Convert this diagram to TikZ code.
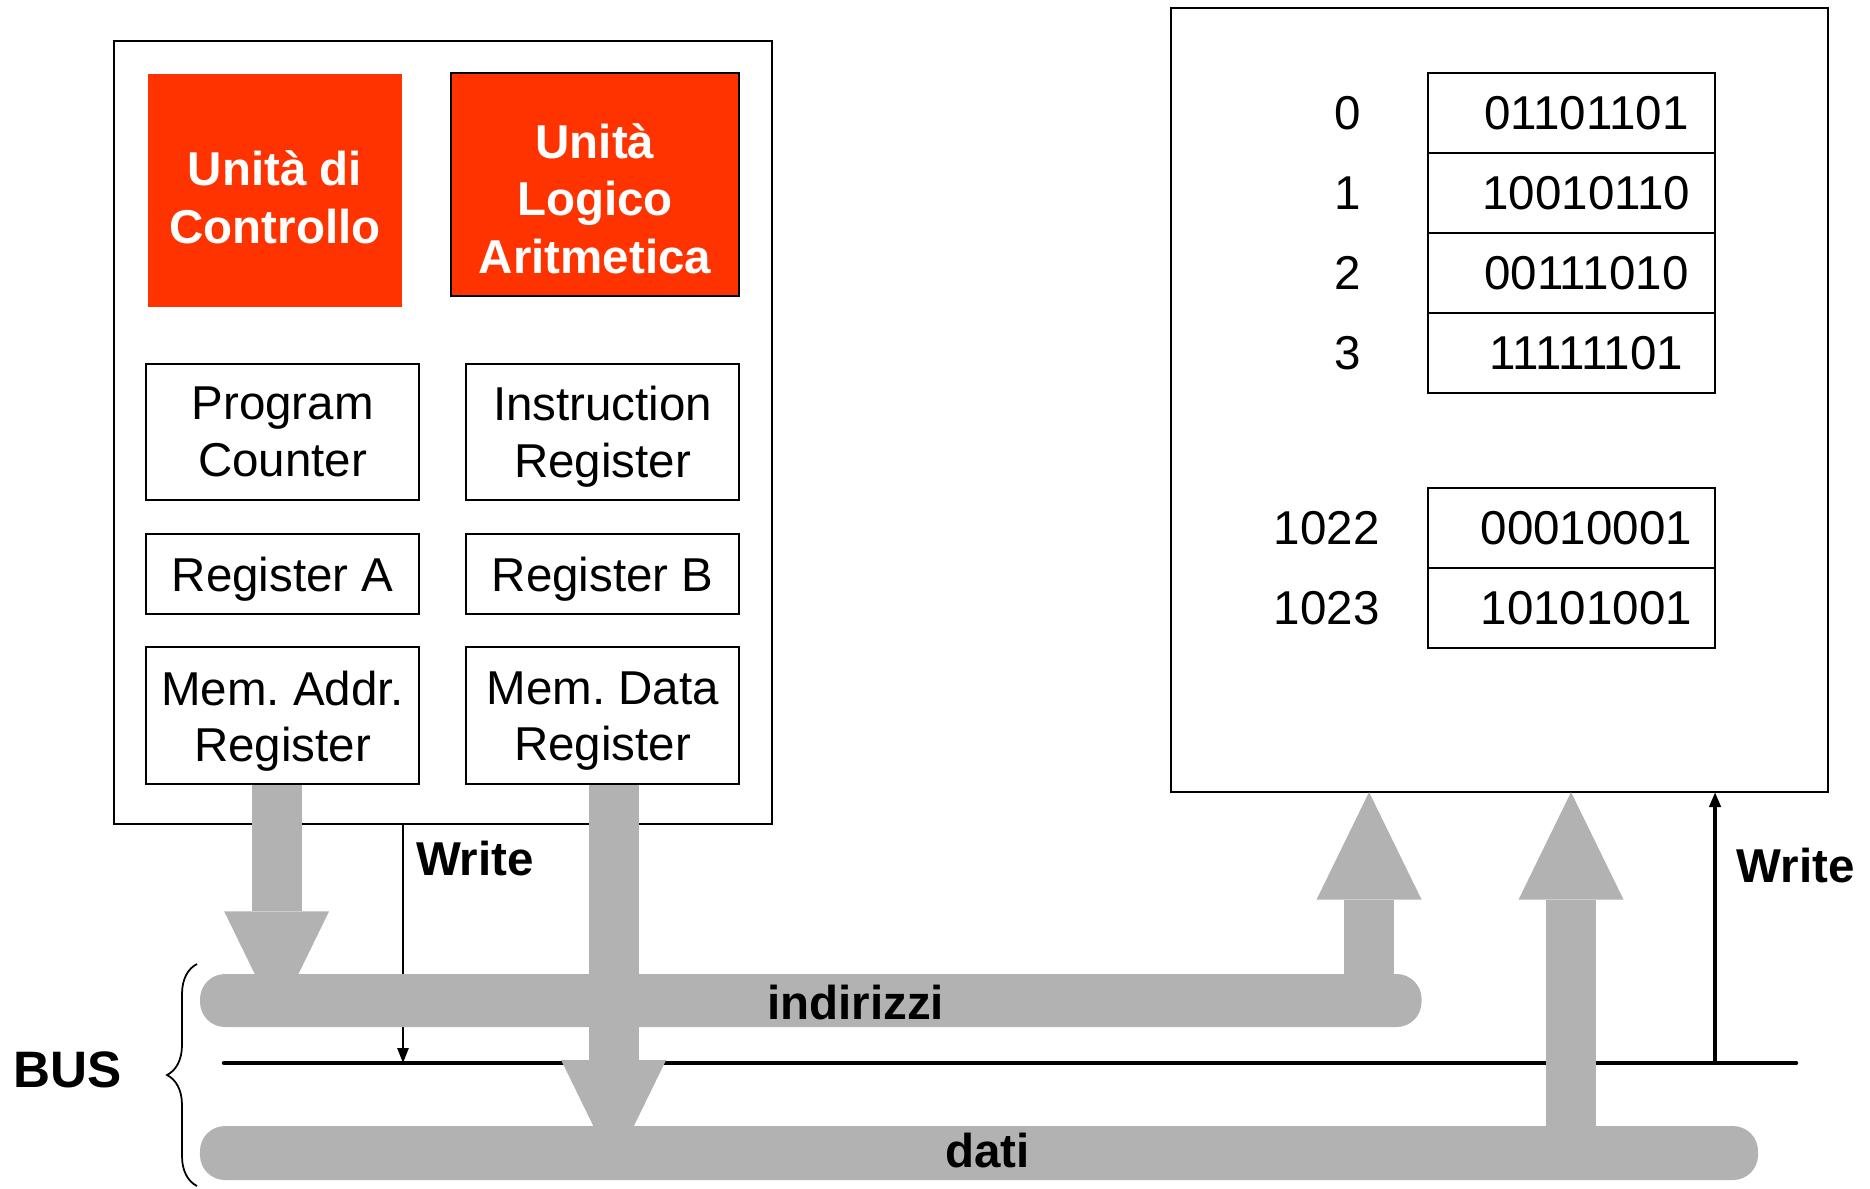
\documentclass[tikz,border=0pt]{standalone}
\usepackage{fontspec}
\setmainfont{Liberation Sans}
\frenchspacing
\usetikzlibrary{positioning, calc, arrows.meta, decorations.pathreplacing}
\definecolor{unitred}{HTML}{FF3300}
\definecolor{busgray}{HTML}{B2B2B2}
\tikzset{
	every node/.style={
		align=center,
		font=\fontsize{19pt}{22.5pt}\selectfont,
	},
	box/.style={draw, line width=0.8pt, inner sep=0pt, outer sep=0pt},
	unit/.style={fill=unitred, text=white, inner sep=0pt, outer sep=0pt,
		font=\fontsize{19pt}{23pt}\selectfont\bfseries},
	reg/.style={box, minimum width=109pt, text depth=-1pt},
	cell/.style={box, minimum width=115pt, minimum height=32pt,
		execute at begin node=\hspace*{12pt}},
	addr/.style={inner sep=0pt},
	bus/.style={fill=busgray, rounded corners=10pt, inner sep=0pt, outer sep=0pt},
	bigarrow/.style={draw=busgray, line width=20pt,
		-{Triangle[length=43pt 0 0, width=42pt 0 0, line width=0pt]}},
	ctrl/.style={line width=0.8pt, -{Triangle[length=6pt, width=4.5pt]}},
	tag/.style={inner sep=0pt, font=\fontsize{19pt}{22.5pt}\selectfont\bfseries},
}

\begin{document}
\begin{tikzpicture}[x=0.4pt, y=-0.4pt]
    \useasboundingbox (0,0) rectangle (1870,1188);

    % processore
    \node (cpu) [box, minimum width=262.8pt, minimum height=313.4pt] at (443,432.3) {};
    \node (cu) [unit, text height=42.4pt, minimum width=101.6pt, minimum height=93pt] at (275,190.3) {Unità di\\Controllo};
    \node (alu) [unit, draw, line width=0.8pt, text height=71pt, minimum width=115.2pt, minimum height=89.2pt] at (595,184.5) {Unità\\Logico\\Aritmetica};

    \node (pc) [reg, minimum height=54.4pt] at (282.6,431.7) {Program\\Counter};
    \node (ir) [reg, minimum height=54.4pt, right=19pt of pc] {Instruction\\Register};
    \node (ra) [reg, minimum height=32pt, below=13.7pt of pc] {Register A};
    \node (rb) [reg, minimum height=32pt, below=13.7pt of ir] {Register B};
    \node (mar) [reg, minimum height=54.8pt, below=13.4pt of ra] {Mem. Addr.\\Register};
    \node (mdr) [reg, minimum height=54.8pt, below=13.4pt of rb] {Mem. Data\\Register};

    % memoria
    \node (mem) [box, minimum width=262.8pt, minimum height=313.5pt] at (1499.5,400.2) {};
    \node (c0) [cell] at (1571.3,112.7) {01101101};
    \node (c1) [cell, below=0pt of c0] {10010110};
    \node (c2) [cell, below=0pt of c1] {00111010};
    \node (c3) [cell, below=0pt of c2] {11111101};
    \node (c1022) [cell] at (1571.3,528.3) {00010001};
    \node (c1023) [cell, below=0pt of c1022] {10101001};

    \node (a0) [addr, left=26.4pt of c0] {0};
    \node (a1) [addr, left=26.4pt of c1] {1};
    \node (a2) [addr, left=26.4pt of c2] {2};
    \node (a3) [addr, left=26.4pt of c3] {3};
    \node (a1022) [addr, left=19pt of c1022] {1022};
    \node (a1023) [addr, left=19pt of c1023] {1023};

    % linea di controllo
    \coordinate (wl) at (224,1063);
    \coordinate (wr) at (1796,1063);
    \coordinate (cpuwr) at ([xshift=-16pt]cpu.south);
    \draw [line width=1.8pt, line cap=round] (wl) -- (wr);
    \draw [ctrl] (cpuwr) -- (cpuwr |- wl)
        node [tag, pos=0.146, anchor=west, xshift=4.8pt] {Write};
    \draw [ctrl, line width=1.4pt] (c3.east |- wl) -- (c3.east |- mem.south)
        node [tag, pos=0.73, anchor=west, xshift=8pt] {Write};

    % bus
    \node (addrbus) [bus, minimum width=488.6pt, minimum height=21.2pt] at (810.8,1000.5) {};
    \node (databus) [bus, minimum width=623.2pt, minimum height=21.6pt] at (979,1153) {};

    \coordinate (marout) at ([xshift=-2.4pt, yshift=-0.4pt]mar.south);
    \coordinate (mdrout) at ([xshift=4.4pt, yshift=-0.4pt]mdr.south);
    \coordinate (addrup) at ([xshift=-21pt]addrbus.east);
    \coordinate (dataup) at ([xshift=-74.8pt]databus.east);
    \coordinate (marin) at ([yshift=3.3pt]marout |- addrbus.south);
    \coordinate (mdrin) at ([yshift=5pt]mdrout |- databus.south);

    \draw [bigarrow] (marout) -- (marin);
    \draw [bigarrow] (mdrout) -- (mdrin);
    \draw [bigarrow] (addrup) -- (addrup |- mem.south);
    \draw [bigarrow] (dataup) -- (dataup |- mem.south);

    \node (addrlbl) [tag] at (855.7,1002) {indirizzi};
    \node (datalbl) [tag] at (987.5,1150) {dati};

    \coordinate (bracebot) at (197,1186);
    \coordinate (bracetop) at (197,964);
    \draw [decorate, decoration={brace, amplitude=12pt}, line width=0.7pt] (bracebot) -- (bracetop);
    \node (bus) [tag, font=\fontsize{20.5pt}{24pt}\selectfont\bfseries] at (68,1070) {BUS};

\end{tikzpicture}
\end{document}
